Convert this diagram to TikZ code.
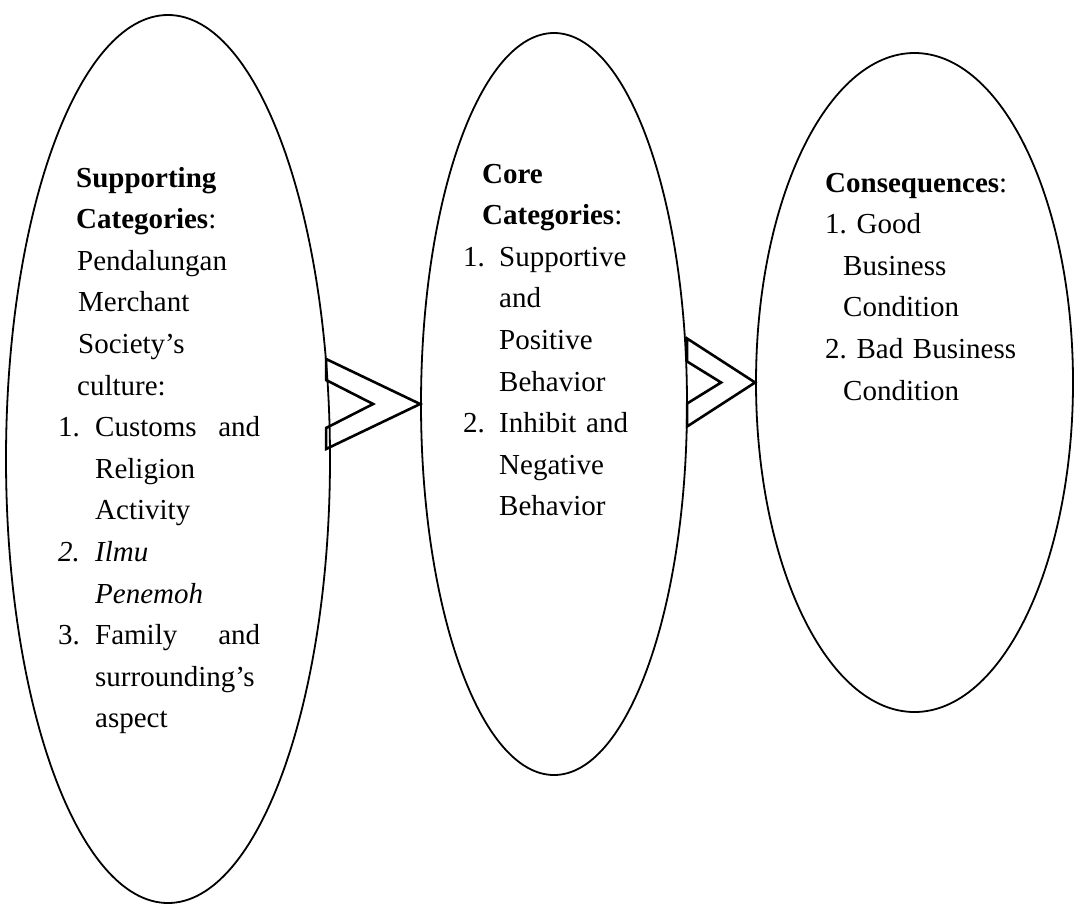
\documentclass[tikz,border=0pt]{standalone}
\usepackage{fontspec}
\setmainfont{Liberation Serif}
\usetikzlibrary{shapes.geometric}
\frenchspacing
\begin{document}
\begin{tikzpicture}[x=1pt,y=-1pt,
  oval/.style={draw, ellipse, line width=1.8pt, inner sep=0pt},
  chev/.style={draw, line width=2.6pt, line join=miter, miter limit=4},
  txt/.style={anchor=base west, inner sep=0pt, align=left, text width=#1,
    font=\fontsize{29}{41.6}\selectfont}]
\useasboundingbox (0,0) rectangle (1075,905);
\node[oval, minimum width=324pt, minimum height=888pt] (e1) at (168,459) {};
\node[oval, minimum width=266pt, minimum height=742pt] (e2) at (554,404) {};
\node[oval, minimum width=317pt, minimum height=659pt] (e3) at (914.5,382.5) {};
% chevrons
\coordinate (t1) at (e2.west);
\draw[chev] ([shift={(-94,-45)}]t1) -- (t1) -- ([shift={(-94,45)}]t1) -- ([shift={(-94,24)}]t1)
  -- ([shift={(-47,0)}]t1) -- ([shift={(-94,-24)}]t1) -- cycle;
\coordinate (t2) at (e3.west);
\draw[chev] ([shift={(-68,-44)}]t2) -- (t2) -- ([shift={(-68,44)}]t2) -- ([shift={(-68,21)}]t2)
  -- ([shift={(-34,0)}]t2) -- ([shift={(-68,-21)}]t2) -- cycle;
% texts
\node[txt=240pt] (s) at (58,187) {%
\hspace*{18pt}\textbf{Supporting}\\
\hspace*{18pt}\textbf{Categories}:\\
\hspace*{19pt}Pendalungan\\
\hspace*{20pt}Merchant\\
\hspace*{20pt}Society’s\\
\hspace*{19pt}culture:\\
\makebox[202pt][l]{\makebox[37pt][l]{1.}Customs\hfill and}\\
\hspace*{37pt}Religion\\
\hspace*{37pt}Activity\\
\textit{\makebox[37pt][l]{2.}Ilmu}\\
\hspace*{37pt}\textit{Penemoh}\\
\makebox[202pt][l]{\makebox[37pt][l]{3.}Family\hfill and}\\
\hspace*{37pt}surrounding’s\\
\hspace*{37pt}aspect};
\node[txt=220pt] (c) at (463,183) {%
\hspace*{19pt}\textbf{Core}\\
\hspace*{19pt}\textbf{Categories}:\\
\makebox[36pt][l]{1.}Supportive\\
\hspace*{36pt}and\\
\hspace*{36pt}Positive\\
\hspace*{36pt}Behavior\\
\makebox[36pt][l]{2.}Inhibit and\\
\hspace*{36pt}Negative\\
\hspace*{36pt}Behavior};
\node[txt=240pt] (q) at (825,192) {%
\textbf{Consequences}:\\
1. Good\\
\hspace*{18pt}Business\\
\hspace*{18pt}Condition\\
2. Bad Business\\
\hspace*{18pt}Condition};
\end{tikzpicture}
\end{document}
